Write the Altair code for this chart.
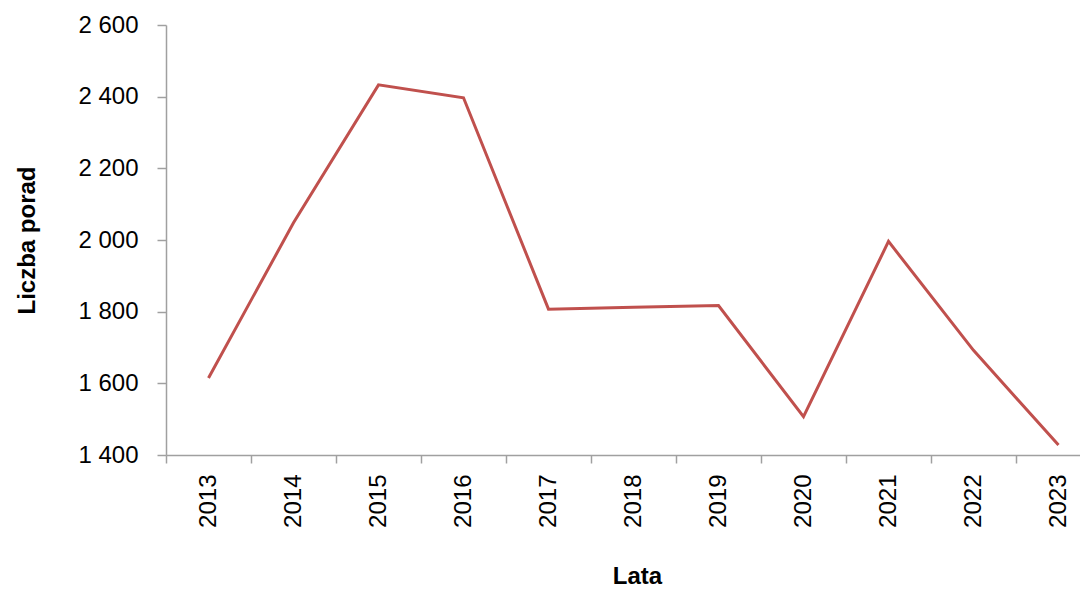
import altair as alt
import pandas as pd

years = ["2013", "2014", "2015", "2016", "2017", "2018", "2019", "2020", "2021", "2022", "2023"]
porady = [1615, 2048, 2433, 2397, 1807, 1812, 1817, 1507, 1996, 1692, 1428]
y_ticks = [1400, 1600, 1800, 2000, 2200, 2400, 2600]

df = pd.DataFrame({"rok": years, "porady": porady})

FONT = "Liberation Sans, Arial, sans-serif"
AXIS_GREY = "#A0A0A0"

chart = alt.Chart(df).mark_line(color="#C0504D", strokeWidth=3, clip=False).encode(
    x=alt.X(
        "rok:O",
        sort=years,
        bandPosition=0.5,
        scale=alt.Scale(type="band", paddingInner=0, paddingOuter=0, range=[0, 935]),
        axis=alt.Axis(
            title="Lata",
            labelAngle=-90,
            labelFont=FONT,
            labelFontSize=24,
            labelColor="#000000",
            labelPadding=11,
            labelOverlap=False,
            tickBand="extent",
            tickSize=8,
            tickColor=AXIS_GREY,
            domainColor=AXIS_GREY,
            tickWidth=1.5,
            domainWidth=1.5,
            titleFont=FONT,
            titleFontSize=24,
            titleFontWeight="bold",
            titleColor="#000000",
            titleX=471,
            titleY=121,
            titleAlign="center",
            titleBaseline="middle",
            titleAngle=0,
        ),
    ),
    y=alt.Y(
        "porady:Q",
        scale=alt.Scale(domain=[1400, 2600], nice=False, zero=False),
        axis=alt.Axis(
            title="Liczba porad",
            values=y_ticks,
            labelExpr="replace(format(datum.value, ','), ',', ' ')",
            labelFont=FONT,
            labelFontSize=24,
            labelColor="#000000",
            labelPadding=19,
            tickSize=9,
            tickColor=AXIS_GREY,
            domainColor=AXIS_GREY,
            tickWidth=1.5,
            domainWidth=1.5,
            grid=False,
            titleFont=FONT,
            titleFontSize=24,
            titleFontWeight="bold",
            titleColor="#000000",
            titleX=-139,
            titleY=215,
            titleAngle=-90,
            titleAlign="center",
            titleBaseline="middle",
        ),
    ),
).properties(
    width=914,
    height=430,
    autosize=alt.AutoSizeParams(type="none"),
    padding={"left": 158, "top": 17, "right": 0, "bottom": 132},
).configure_view(stroke=None)

chart.save("out.html", embed_options={"renderer": "svg", "actions": False})
